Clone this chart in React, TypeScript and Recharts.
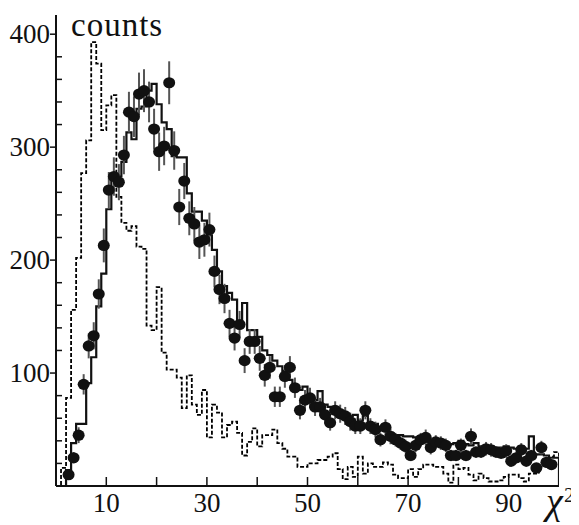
import { ComposedChart, Line, Scatter, ErrorBar, XAxis, YAxis } from "recharts"

// bin contents, one value per unit bin [i, i+1), i = 0..99
const modelCounts = [
  0, 0, 14, 38, 55, 55, 91, 114, 159, 188,
  245, 274, 274, 287, 313, 307, 334, 336, 350, 356,
  338, 322, 316, 292, 291, 291, 259, 243, 243, 235,
  222, 209, 190, 177, 171, 165, 144, 162, 138, 138,
  132, 120, 116, 111, 106, 102, 94, 86, 85, 88,
  78, 76, 84, 72, 70, 69, 64, 63, 62, 63,
  58, 62, 55, 55, 50, 49, 47, 45, 45, 44,
  44, 43, 44, 42, 39, 39, 38, 37, 37, 38,
  40, 37, 36, 38, 35, 35, 35, 34, 34, 35,
  34, 33, 35, 33, 44, 28, 28, 27, 25, 25,
]

const backgroundCounts = [
  0, 16, 78, 156, 202, 277, 306, 393, 374, 315,
  337, 346, 256, 233, 226, 230, 212, 210, 142, 138,
  176, 118, 103, 103, 96, 69, 98, 72, 63, 85,
  43, 72, 65, 43, 54, 57, 47, 27, 39, 51,
  35, 45, 45, 50, 38, 33, 26, 26, 17, 17,
  20, 20, 23, 23, 26, 29, 15, 6, 17, 8,
  26, 11, 20, 17, 17, 21, 19, 10, 7, 7,
  15, 8, 15, 19, 19, 17, 17, 11, 3, 19,
  15, 16, 10, 5, 11, 7, 4, 4, 5, 8,
  10, 10, 7, 4, 11, 11, 17, 20, 26, 30,
]

// measured points, bins 2..98
const firstPointBin = 2
const dataCounts = [
  10, 25, 45, 90, 124, 133, 170, 213,
  262, 274, 269, 293, 331, 327, 347, 350, 340, 316,
  296, 301, 357, 297, 247, 270, 237, 232, 216, 218,
  227, 190, 174, 166, 144, 131, 143, 111, 128, 128,
  113, 98, 105, 79, 79, 97, 105, 87, 67, 76,
  78, 70, 70, 63, 56, 67, 64, 62, 57, 53,
  53, 67, 53, 50, 41, 52, 44, 41, 38, 35,
  27, 36, 41, 43, 34, 39, 38, 36, 27, 27,
  36, 27, 44, 30, 30, 33, 32, 30, 29, 31,
  22, 25, 32, 22, 27, 16, 34, 21, 19,
]
const dataErrors = [
  3, 5, 7, 9, 11, 12, 13, 15,
  16, 17, 16, 17, 18, 18, 19, 19, 18, 18,
  17, 17, 19, 17, 16, 16, 15, 15, 15, 15,
  15, 14, 13, 13, 12, 11, 12, 11, 11, 11,
  11, 10, 10, 9, 9, 10, 10, 9, 8, 9,
  9, 8, 8, 8, 7, 8, 8, 8, 8, 7,
  7, 8, 7, 7, 6, 7, 7, 6, 6, 6,
  5, 6, 6, 7, 6, 6, 6, 6, 5, 5,
  6, 5, 7, 5, 5, 6, 6, 5, 5, 6,
  5, 5, 6, 5, 5, 4, 6, 5, 4,
]

const xTicks = [10, 20, 30, 40, 50, 60, 70, 80, 90]
const xLabels = [10, 30, 50, 70, 90]
const yTicks = [20, 40, 60, 80, 100, 120, 140, 160, 180, 200, 220, 240, 260, 280, 300, 320, 340, 360, 380, 400]
const yLabels = [100, 200, 300, 400]

const FONT = '"Liberation Serif", "DejaVu Serif", serif'

const histRows = modelCounts.map((v, i) => ({ x: i, model: v, bkg: backgroundCounts[i] }))
histRows.push({ x: modelCounts.length, model: 0, bkg: 0 })

const pointRows = dataCounts.map((v, i) => ({
  x: firstPointBin + i + 0.5,
  y: v,
  err: dataErrors[i],
}))

function XTick(props: any) {
  const { x, y, payload } = props
  const v = payload.value
  return (
    <g>
      <line x1={x} x2={x} y1={y} y2={y - 9} stroke="#111" strokeWidth={1.5} />
      {xLabels.includes(v) && (
        <text x={x} y={y + 26} textAnchor="middle" style={{ fontFamily: FONT, fontSize: 27 }} fill="#111">
          {v}
        </text>
      )}
    </g>
  )
}

function YTick(props: any) {
  const { x, y, payload } = props
  const v = payload.value
  const major = yLabels.includes(v)
  return (
    <g>
      {major ? (
        <line x1={x - 6} x2={x} y1={y} y2={y} stroke="#111" strokeWidth={1.5} />
      ) : (
        <line x1={x} x2={x + 6} y1={y} y2={y} stroke="#111" strokeWidth={1.5} />
      )}
      {major && (
        <text x={x - 6} y={y + 9} textAnchor="end" style={{ fontFamily: FONT, fontSize: 27 }} fill="#111">
          {v}
        </text>
      )}
    </g>
  )
}

export default function App() {
  return (
    <div style={{ position: "relative", width: 571, height: 517, overflow: "hidden" }}>
      <ComposedChart width={571} height={517} margin={{ top: 7, right: 20, bottom: 0, left: 0 }}>
        <XAxis
          dataKey="x"
          type="number"
          domain={[0, 100]}
          ticks={xTicks}
          interval={0}
          allowDataOverflow
          height={39}
          tickSize={0}
          tickMargin={0}
          tickLine={false}
          axisLine={{ stroke: "#111", strokeWidth: 2 }}
          tick={<XTick />}
        />
        <YAxis
          type="number"
          domain={[0, 417]}
          ticks={yTicks}
          interval={0}
          allowDataOverflow
          width={48}
          tickSize={0}
          tickMargin={0}
          tickLine={false}
          axisLine={{ stroke: "#111", strokeWidth: 2 }}
          tick={<YTick />}
        />
        <Line
          data={histRows}
          dataKey="bkg"
          type="stepAfter"
          stroke="#000"
          strokeWidth={1.8}
          strokeDasharray="4 2"
          dot={false}
          isAnimationActive={false}
        />
        <Line
          data={histRows}
          dataKey="model"
          type="stepAfter"
          stroke="#111"
          strokeWidth={2.2}
          dot={false}
          isAnimationActive={false}
        />
        <Scatter
          data={pointRows}
          dataKey="y"
          isAnimationActive={false}
          shape={(p: any) => <ellipse cx={p.cx} cy={p.cy} rx={6} ry={5.6} fill="#111" />}
        >
          <ErrorBar dataKey="err" direction="y" width={0} stroke="#555" strokeWidth={2} />
        </Scatter>
      </ComposedChart>
      <svg
        width={571}
        height={517}
        style={{ position: "absolute", left: 0, top: 0, pointerEvents: "none" }}
      >
        <text x={63} y={28} style={{ fontFamily: FONT, fontSize: 33, letterSpacing: 1 }} fill="#111">
          counts
        </text>
        <text x={538} y={506} style={{ fontFamily: FONT, fontSize: 38, fontStyle: "italic" }} fill="#111">
          χ
        </text>
        <text x={556} y={494} style={{ fontFamily: FONT, fontSize: 21 }} fill="#111">
          2
        </text>
      </svg>
    </div>
  )
}
